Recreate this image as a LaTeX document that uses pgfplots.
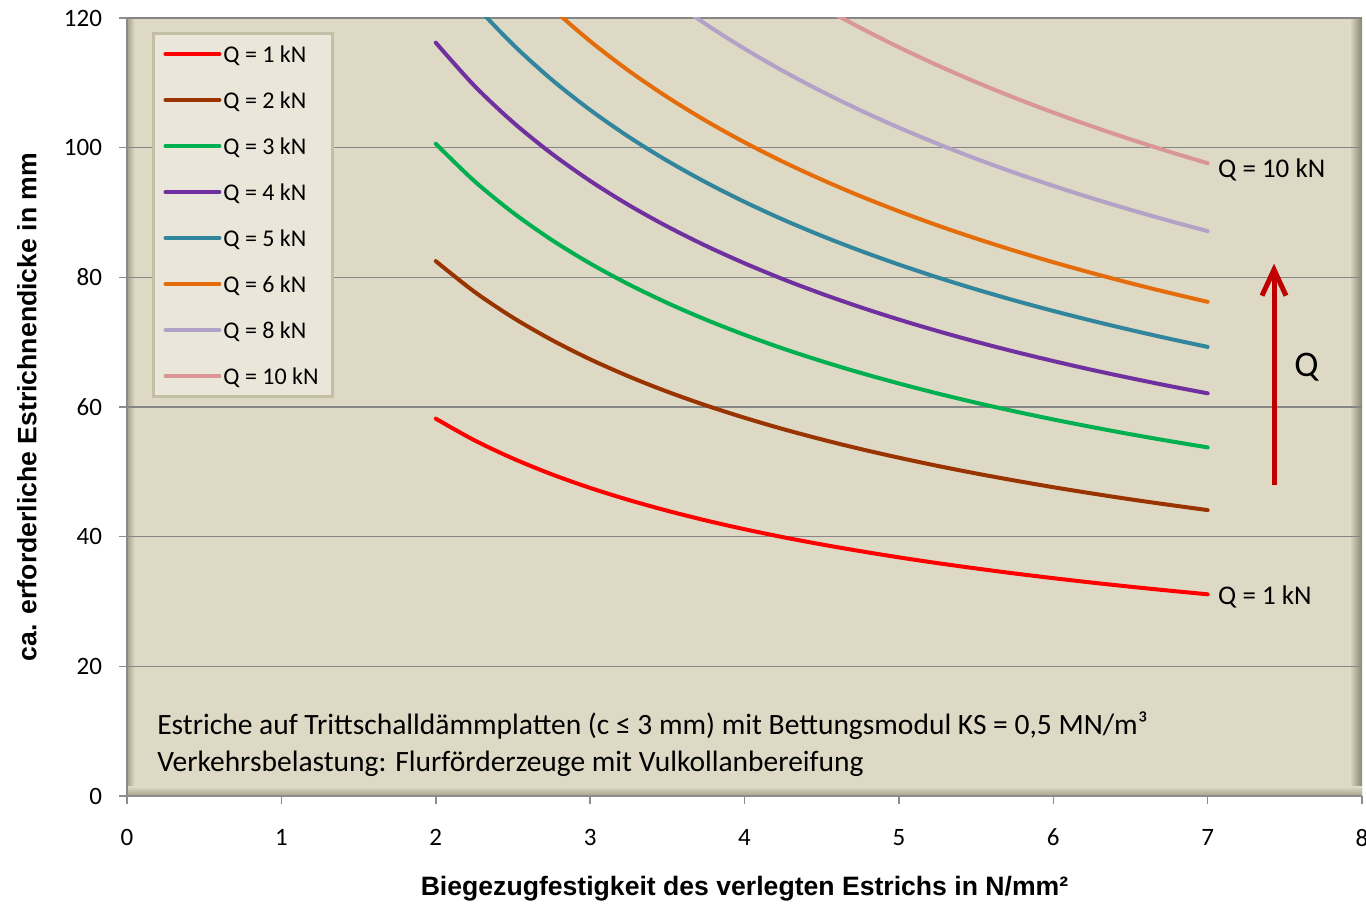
\documentclass[border=0pt]{standalone}
\usepackage{fontspec}
\setmainfont{Carlito}
\newfontfamily\arial{Liberation Sans}
\usepackage{pgfplots}
\pgfplotsset{compat=1.18}
\usetikzlibrary{arrows.meta}
\definecolor{bgc}{HTML}{DDD9C4}
\definecolor{legbg}{HTML}{EAE7DA}
\definecolor{legedge}{HTML}{C4BFA4}
\definecolor{edgedark}{HTML}{8A8671}
\definecolor{axgray}{HTML}{8C8C8C}
\definecolor{gridgray}{HTML}{868686}
\definecolor{cQa}{HTML}{FF0000}
\definecolor{cQb}{HTML}{993300}
\definecolor{cQc}{HTML}{00B050}
\definecolor{cQd}{HTML}{7030A0}
\definecolor{cQe}{HTML}{31859C}
\definecolor{cQf}{HTML}{E46C0A}
\definecolor{cQh}{HTML}{B3A2C7}
\definecolor{cQj}{HTML}{D99694}
\definecolor{arrowred}{HTML}{C00000}
\newcommand{\legtxt}[1]{\makebox[49.5pt][l]{#1}}
\begin{document}
\begin{tikzpicture}
\begin{axis}[
  set layers,
  scale only axis, width=617.5pt, height=389pt,
  xmin=0, xmax=8, ymin=0, ymax=120,
  xtick={0,1,...,8}, ytick={0,20,...,120},
  axis x line*=bottom, axis y line*=left,
  axis line style={-, draw=axgray, line width=0.75pt},
  tick style={draw=axgray, line width=0.75pt},
  major tick length=4pt, tick align=outside,
  ymajorgrids, grid style={draw=gridgray, line width=0.75pt},
  axis background/.style={fill=bgc},
  tick label style={font=\fontsize{12.5}{14}\selectfont},
  /pgf/number format/assume math mode=true,
  xticklabel style={yshift=-9pt},
  yticklabel style={xshift=-5pt},
  every axis x label/.style={at={(axis description cs:0.5,-0.1195)}, anchor=center},
  every axis y label/.style={at={(axis description cs:-0.081,0.5)}, rotate=90, anchor=center},
  xlabel={Biegezugfestigkeit des verlegten Estrichs in N/mm²},
  ylabel={ca. erforderliche Estrichnendicke in mm},
  label style={font=\arial\bfseries\fontsize{13.3}{15}\selectfont},
  legend style={at={(axis description cs:0.0202,0.982)}, anchor=north west,
    fill=legbg, draw=legedge, line width=1.5pt,
    inner xsep=5pt, inner ysep=6.3pt, row sep=15pt, column sep=1pt,
    font=\fontsize{12}{14}\selectfont,
    nodes={inner sep=0pt, text height=8pt, text depth=0pt}},
  legend cell align=left,
  legend image code/.code={\draw[#1, line cap=round] (0pt,0pt) -- (27pt,0pt);},
  every axis plot/.append style={line width=2pt, smooth, line cap=round, no markers},
]
\begin{pgfonlayer}{axis background}
\shade[left color=bgc, right color=edgedark] (rel axis cs:0.99,0) rectangle (rel axis cs:1,1);
\shade[left color=edgedark!70!bgc, right color=bgc] (rel axis cs:0,0) rectangle (rel axis cs:0.006,1);
\shade[top color=bgc, bottom color=edgedark!70!bgc] (rel axis cs:0,0) rectangle (rel axis cs:1,0.012);
\end{pgfonlayer}

\addplot[cQa] coordinates {(2,58.2) (2.25,54.87) (2.5,52.06) (2.75,49.63) (3,47.52) (3.25,45.66) (3.5,44.00) (3.75,42.50) (4,41.15) (4.25,39.92) (4.5,38.80) (4.75,37.77) (5,36.81) (5.25,35.92) (5.5,35.10) (5.75,34.32) (6,33.60) (6.25,32.92) (6.5,32.28) (6.75,31.68) (7,31.11)};
\addlegendentry{\legtxt{Q = 1 kN}}
\addplot[cQb] coordinates {(2,82.5) (2.25,77.78) (2.5,73.79) (2.75,70.36) (3,67.36) (3.25,64.72) (3.5,62.36) (3.75,60.25) (4,58.34) (4.25,56.59) (4.5,55.00) (4.75,53.53) (5,52.18) (5.25,50.92) (5.5,49.75) (5.75,48.66) (6,47.63) (6.25,46.67) (6.5,45.76) (6.75,44.91) (7,44.10)};
\addlegendentry{\legtxt{Q = 2 kN}}
\addplot[cQc] coordinates {(2,100.6) (2.25,94.85) (2.5,89.98) (2.75,85.79) (3,82.14) (3.25,78.92) (3.5,76.05) (3.75,73.47) (4,71.14) (4.25,69.01) (4.5,67.07) (4.75,65.28) (5,63.63) (5.25,62.09) (5.5,60.66) (5.75,59.33) (6,58.08) (6.25,56.91) (6.5,55.80) (6.75,54.76) (7,53.77)};
\addlegendentry{\legtxt{Q = 3 kN}}
\addplot[cQd] coordinates {(2,116.2) (2.25,109.55) (2.5,103.93) (2.75,99.10) (3,94.88) (3.25,91.15) (3.5,87.84) (3.75,84.86) (4,82.17) (4.25,79.71) (4.5,77.47) (4.75,75.40) (5,73.49) (5.25,71.72) (5.5,70.07) (5.75,68.53) (6,67.09) (6.25,65.73) (6.5,64.46) (6.75,63.25) (7,62.11)};
\addlegendentry{\legtxt{Q = 4 kN}}
\addplot[cQe] coordinates {(2,129.6) (2.25,122.19) (2.5,115.92) (2.75,110.52) (3,105.82) (3.25,101.67) (3.5,97.97) (3.75,94.65) (4,91.64) (4.25,88.90) (4.5,86.40) (4.75,84.10) (5,81.97) (5.25,79.99) (5.5,78.15) (5.75,76.43) (6,74.82) (6.25,73.31) (6.5,71.89) (6.75,70.54) (7,69.27)};
\addlegendentry{\legtxt{Q = 5 kN}}
\addplot[cQf] coordinates {(2.5,127.55) (2.75,121.61) (3,116.43) (3.25,111.86) (3.5,107.80) (3.75,104.14) (4,100.83) (4.25,97.82) (4.5,95.07) (4.75,92.53) (5,90.19) (5.25,88.01) (5.5,85.99) (5.75,84.10) (6,82.33) (6.25,80.67) (6.5,79.10) (6.75,77.62) (7,76.22)};
\addlegendentry{\legtxt{Q = 6 kN}}
\addplot[cQh] coordinates {(3.25,127.87) (3.5,123.22) (3.75,119.04) (4,115.26) (4.25,111.82) (4.5,108.67) (4.75,105.77) (5,103.09) (5.25,100.61) (5.5,98.29) (5.75,96.13) (6,94.11) (6.25,92.21) (6.5,90.42) (6.75,88.73) (7,87.13)};
\addlegendentry{\legtxt{Q = 8 kN}}
\addplot[cQj] coordinates {(4.25,125.26) (4.5,121.73) (4.75,118.49) (5,115.49) (5.25,112.70) (5.5,110.11) (5.75,107.69) (6,105.42) (6.25,103.30) (6.5,101.29) (6.75,99.39) (7,97.60)};
\addlegendentry{\legtxt{Q = 10 kN}}

\node[anchor=west, inner sep=0pt, font=\fontsize{13.5}{16}\selectfont] at (axis cs:7.066,96.6) {Q = 10 kN};
\node[anchor=west, inner sep=0pt, font=\fontsize{13.5}{16}\selectfont] at (axis cs:7.066,30.7) {Q = 1 kN};
\node[anchor=west, inner sep=0pt, font=\fontsize{18}{20}\selectfont] at (axis cs:7.56,66.2) {Q};
\draw[arrowred, line width=2.5pt, -{Straight Barb[length=13pt,width=12pt]}] (axis cs:7.43,48) -- (axis cs:7.43,82.1);
\node[anchor=west, inner sep=0pt, align=left, font=\fontsize{14.75}{18.5}\selectfont] at (axis cs:0.194,7.95)
  {Estriche auf Trittschalldämmplatten (c ≤ 3 mm) mit Bettungsmodul KS = 0,5 MN/m³\\Verkehrsbelastung: Flurförderzeuge mit Vulkollanbereifung};

\coordinate (bl) at (rel axis cs:0,0);
\coordinate (tr) at (rel axis cs:1,1);
\end{axis}
\pgfresetboundingbox
\path[use as bounding box] ([xshift=-63.5pt,yshift=-54.5pt]bl) rectangle ([xshift=2pt,yshift=9pt]tr);
\end{tikzpicture}
\end{document}
